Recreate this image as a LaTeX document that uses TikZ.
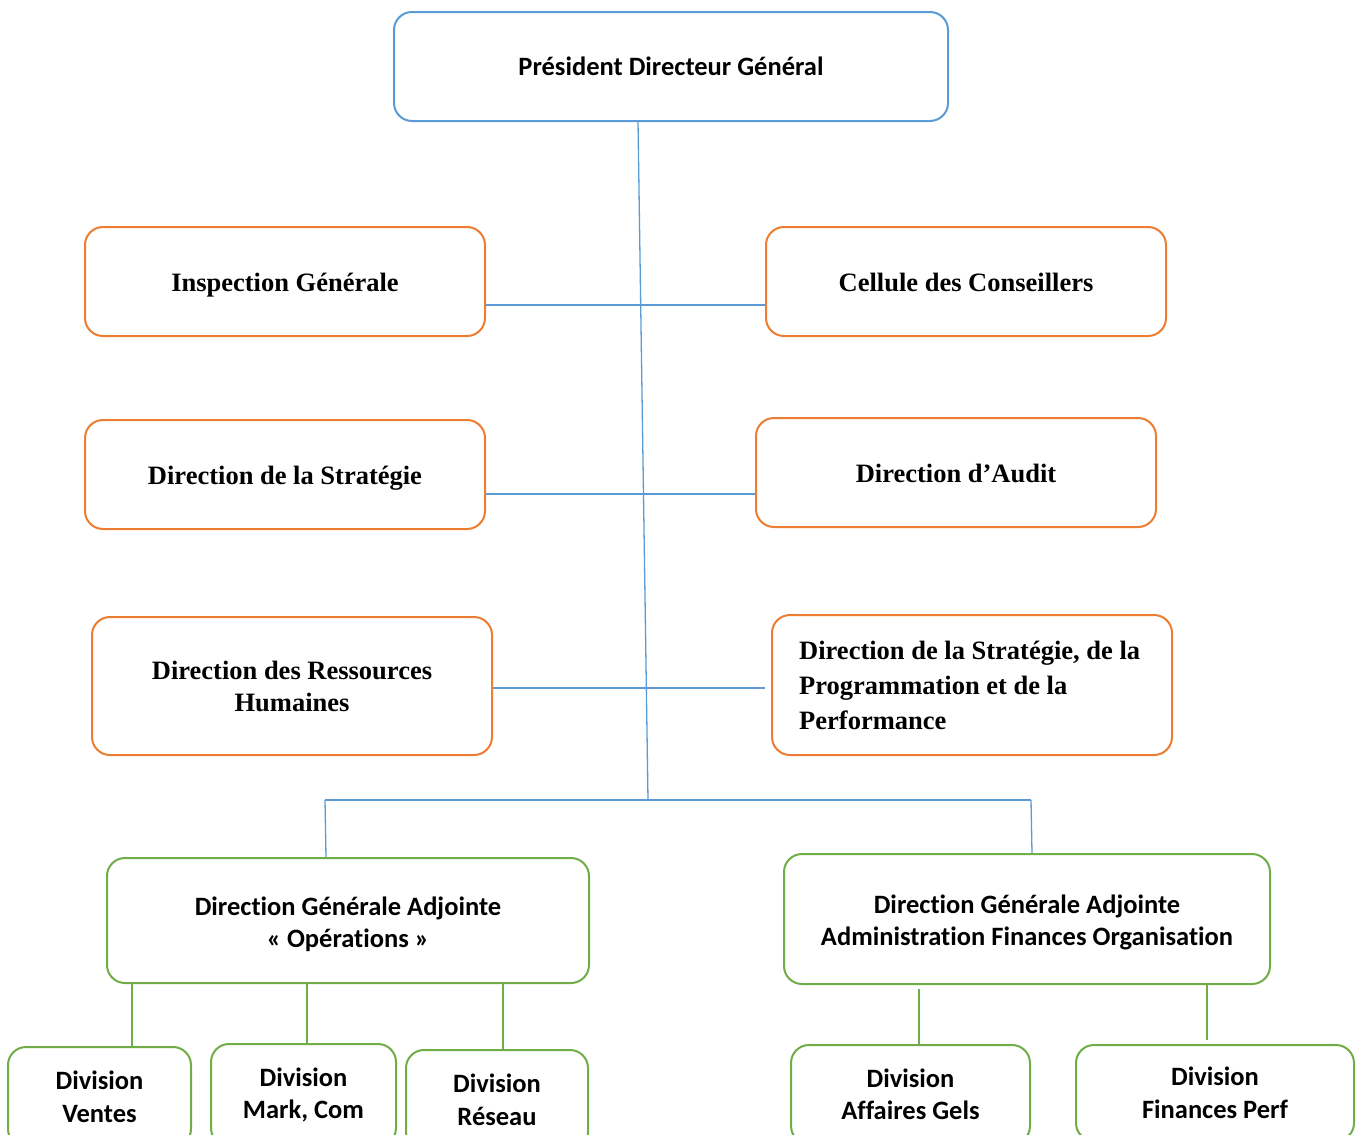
\documentclass[tikz,border=0pt]{standalone}
\usepackage{fontspec}
\setmainfont{Liberation Serif}
\newfontfamily\carl[Ligatures=NoCommon]{Carlito}
\usetikzlibrary{calc}
\definecolor{boxblue}{HTML}{5B9BD5}
\definecolor{lineblue}{HTML}{5B9BD5}
\definecolor{boxorange}{HTML}{ED7D31}
\definecolor{boxgreen}{HTML}{70AD47}
\tikzset{
  base/.style={draw, fill=white, rounded corners=18pt, line width=2pt, align=center, inner sep=0pt},
  bluebox/.style={base, draw=boxblue, font=\carl\bfseries\fontsize{26.5}{32.5}\selectfont},
  orangebox/.style={base, draw=boxorange, font=\bfseries\fontsize{26.5}{32}\selectfont},
  oneline/.style={text height=20pt, text depth=0pt},
  orangetext/.style={font=\bfseries\fontsize{26.5}{35}\selectfont, align=left, inner sep=0pt},
  greenbox/.style={base, draw=boxgreen, font=\carl\bfseries\fontsize{26.5}{32.5}\selectfont},
  greentext/.style={font=\carl\bfseries\fontsize{26.5}{32.5}\selectfont, align=center, inner sep=0pt},
  link/.style={draw=lineblue, line width=1.3pt},
  glink/.style={draw=boxgreen, line width=1.3pt},
}
\begin{document}
\begin{tikzpicture}[x=1pt,y=-1pt]
\useasboundingbox (0,0) rectangle (1360,1135);

% junction points of the blue tree
\coordinate (hub) at (648,800);
\coordinate (hl) at (325,800);
\coordinate (hr) at (1031,800);

% head box
\node[bluebox, minimum width=554pt, minimum height=109pt] (pdg) at (671,66.5) {Président Directeur Général};

% staff boxes
\node[orangebox, oneline, minimum width=400pt, minimum height=109pt] (insp) at (285,281.5) {Inspection Générale};
\node[orangebox, oneline, minimum width=400pt, minimum height=109pt] (cell) at (966,281.5) {Cellule des Conseillers};
\node[orangebox, oneline, minimum width=400pt, minimum height=109pt] (strat) at (285,474.5) {Direction de la Stratégie};
\node[orangebox, oneline, minimum width=400pt, minimum height=109pt] (audit) at (956,472.5) {Direction d’Audit};
\node[orangebox, minimum width=400pt, minimum height=138pt] (drh) at (292,686) {Direction des Ressources\\Humaines};
\node[orangebox, minimum width=400pt, minimum height=140pt] (dspp) at (972,685) {};
\node[orangetext, anchor=west] (dsppt) at ($(dspp.west)+(28,0)$) {Direction de la Stratégie, de la\\Programmation et de la\\Performance};

% deputy directorates
\node[greenbox, minimum width=482pt, minimum height=125pt] (dgaop) at (348,920.5) {};
\node[greentext] (dgaopt) at ($(dgaop.center)+(0,4)$) {Direction Générale Adjointe\\« Opérations »};
\node[greenbox, minimum width=486pt, minimum height=130pt] (dgaafo) at (1027,919) {};
\node[greentext] (dgaafot) at ($(dgaafo.center)+(0,3.5)$) {Direction Générale Adjointe\\Administration Finances Organisation};

% divisions
\node[greenbox, minimum width=183pt, minimum height=100pt] (ventes) at (99.5,1097) {Division\\Ventes};
\node[greenbox, minimum width=185pt, minimum height=102pt] (markcom) at (303.5,1095) {Division\\Mark, Com};
\node[greenbox, minimum width=182pt, minimum height=100pt] (reseau) at (497,1100) {Division\\Réseau};
\node[greenbox, minimum width=239pt, minimum height=99pt] (gels) at (910.5,1094.5) {Division\\Affaires Gels};
\node[greenbox, minimum width=278pt, minimum height=96pt] (finperf) at (1215,1093) {Division\\Finances Perf};

% blue links
\draw[link] ($(pdg.south)+(-33,0)$) -- (hub);
\draw[link] ($(insp.east)+(0,23.5)$) -- ($(cell.west)+(0,23.5)$);
\draw[link] ($(strat.east)+(0,19.5)$) -- ($(audit.west)+(0,21.5)$);
\draw[link] ($(drh.east)+(0,2)$) -- ($(dspp.west)+(-6,3)$);
\draw[link] (hl) -- (hr);
\draw[link] (hl) -- ($(dgaop.north)+(-22,0)$);
\draw[link] (hr) -- ($(dgaafo.north)+(5,0)$);

% green links
\draw[glink] ($(dgaop.south)+(-216,0)$) -- ($(ventes.north)+(32.5,0)$);
\draw[glink] ($(dgaop.south)+(-41,0)$) -- ($(markcom.north)+(3.5,0)$);
\draw[glink] ($(dgaop.south)+(155,0)$) -- ($(reseau.north)+(6,0)$);
\draw[glink] ($(dgaafo.south)+(-108,4)$) -- ($(gels.north)+(8.5,0)$);
\draw[glink] ($(dgaafo.south)+(180,0)$) -- ($(finperf.north)+(-8,-4)$);
\end{tikzpicture}
\end{document}
